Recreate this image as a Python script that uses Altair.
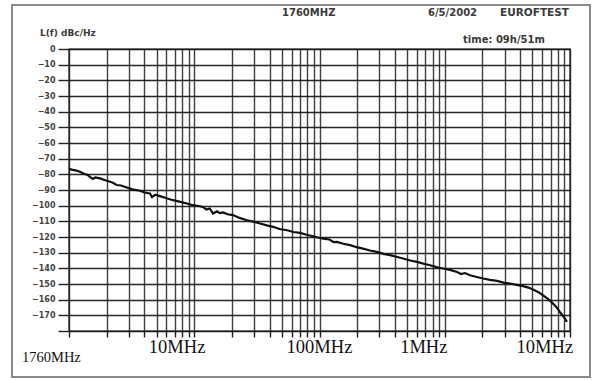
import altair as alt
import pandas as pd

# Offset frequency (Hz) and phase noise L(f) (dBc/Hz)
freq_hz = [100, 105, 115, 122, 133, 140, 147, 155, 162, 177, 195, 210, 224, 240, 260,
           290, 320, 369, 400, 443, 460, 490, 533, 600, 676, 760, 875, 977, 1080, 1175,
           1250, 1330, 1413, 1520, 1600, 1698, 1850, 2037, 2300, 2637, 3000, 3350, 3800,
           4255, 4800, 5510, 6200, 6985, 7900, 8875, 9700, 10670, 12000, 13000, 13800,
           15500, 17540, 19800, 22240, 25300, 28770, 32500, 36560, 41000, 46450, 53000,
           60000, 67500, 76250, 86000, 96800, 110000, 125300, 135000, 145000, 159200,
           180000, 201900, 230000, 261200, 295000, 331900, 375000, 421700, 465000,
           507000, 560000, 609500, 670000, 731800, 780000, 831800, 890000, 946000]
noise_dbc = [-76.5, -77.0, -77.6, -78.4, -79.8, -80.2, -81.6, -82.9, -82.0, -82.6, -83.8,
             -84.6, -85.4, -86.8, -87.1, -88.4, -89.6, -90.5, -91.6, -92.2, -94.5, -93.0,
             -93.9, -95.3, -96.5, -97.4, -98.6, -99.7, -100.2, -100.8, -102.5, -101.8,
             -105.0, -103.6, -104.8, -104.3, -105.5, -106.0, -107.8, -109.3, -110.3,
             -111.4, -112.6, -113.5, -114.9, -115.7, -116.8, -117.4, -118.6, -119.5,
             -120.3, -121.0, -121.6, -123.3, -123.1, -124.3, -125.2, -126.5, -127.4,
             -128.6, -129.5, -130.8, -131.6, -132.6, -133.7, -135.0, -135.9, -137.0,
             -138.0, -139.2, -140.1, -141.0, -142.3, -143.6, -143.0, -144.4, -145.5,
             -146.5, -147.4, -148.0, -149.1, -149.7, -150.6, -151.4, -152.3, -153.5,
             -155.2, -157.2, -159.6, -162.5, -164.8, -167.9, -171.0, -174.2]

# Vertical grid positions (log decades 1..9)
x_grid = [100, 200, 300, 400, 500, 600, 700, 800, 900,
          1000, 2000, 3000, 4000, 5000, 6000, 7000, 8000, 9000,
          10000, 20000, 30000, 40000, 50000, 60000, 70000, 80000, 90000,
          100000, 200000, 300000, 400000, 500000, 600000, 700000, 800000, 900000,
          1000000]
y_grid = [0, -10, -20, -30, -40, -50, -60, -70, -80, -90, -100, -110, -120, -130,
          -140, -150, -160, -170, -180]

# Frequency annotations under the plot (as printed)
freq_label_pos = [730, 10000, 68000, 630000]
freq_label_txt = ["10MHz", "100MHz", "1MHz", "10MHz"]

df = pd.DataFrame({"f": freq_hz, "L": noise_dbc})
lab = pd.DataFrame({"f": freq_label_pos, "t": freq_label_txt})

W, H = 501, 282
L0, T0 = 69, 49

xscale = alt.Scale(type="log", domain=[100, 1000000], nice=False)
yscale = alt.Scale(domain=[-180, 0], nice=False)

line = alt.Chart(df).mark_line(color="#111", strokeWidth=2.2).encode(
    x=alt.X("f:Q", scale=xscale,
            axis=alt.Axis(values=x_grid, labels=False, title=None, grid=True,
                          gridColor="#1e1e1e", gridWidth=1.4, gridOpacity=0.85,
                          ticks=True, tickSize=6, tickColor="#1e1e1e", tickWidth=1.4,
                          domain=False)),
    y=alt.Y("L:Q", scale=yscale,
            axis=alt.Axis(values=y_grid, title=None, grid=True,
                          gridColor="#111", gridWidth=1.4, gridOpacity=0.9,
                          ticks=True, tickSize=11, tickColor="#222", tickWidth=1.4,
                          domain=False, labelPadding=3,
                          labelExpr="datum.value == -180 ? '' : datum.label",
                          labelFont="DejaVu Sans", labelFontSize=8,
                          labelFontWeight="bold", labelColor="#444")),
)

flabels = alt.Chart(lab).mark_text(font="Liberation Serif", fontSize=18.5,
                                   color="#111", baseline="alphabetic").encode(
    x=alt.X("f:Q", scale=xscale),
    y=alt.value(353 - T0),
    text="t:N",
)

one = alt.Data(values=[{}])


def note(txt, x, y, size=9, align="left", font="DejaVu Sans", weight="bold",
         color="#3a3a3a"):
    return alt.Chart(one).mark_text(text=txt, font=font, fontSize=size,
                                    fontWeight=weight, align=align,
                                    baseline="middle", color=color).encode(
        x=alt.value(x - L0), y=alt.value(y - T0))


headers = [
    note("1760MHZ", 282, 13, size=10),
    note("6/5/2002", 428, 13, size=10),
    note("EUROFTEST", 500, 13, size=10.5),
    note("time: 09h/51m", 463, 40, size=10),
    note("L(f) dBc/Hz", 40, 33, size=9),
    note("1760MHz", 22, 358, size=14.5, font="Liberation Serif", weight="normal",
         color="#111"),
]

frame = alt.Chart(one).mark_rect(filled=False, stroke="#8a8a8a", strokeWidth=2).encode(
    x=alt.value(12 - L0), x2=alt.value(590 - L0),
    y=alt.value(5 - T0), y2=alt.value(377 - T0))

chart = alt.layer(frame, line, flabels, *headers).properties(
    width=W, height=H,
    padding={"left": L0, "top": T0, "right": 594 - L0 - W, "bottom": 380 - T0 - H},
    autosize=alt.AutoSizeParams(type="none"),
    background="white",
).configure_view(stroke="#1e1e1e", strokeWidth=1.4)

chart.save("out.html", embed_options={"renderer": "svg", "actions": False})
